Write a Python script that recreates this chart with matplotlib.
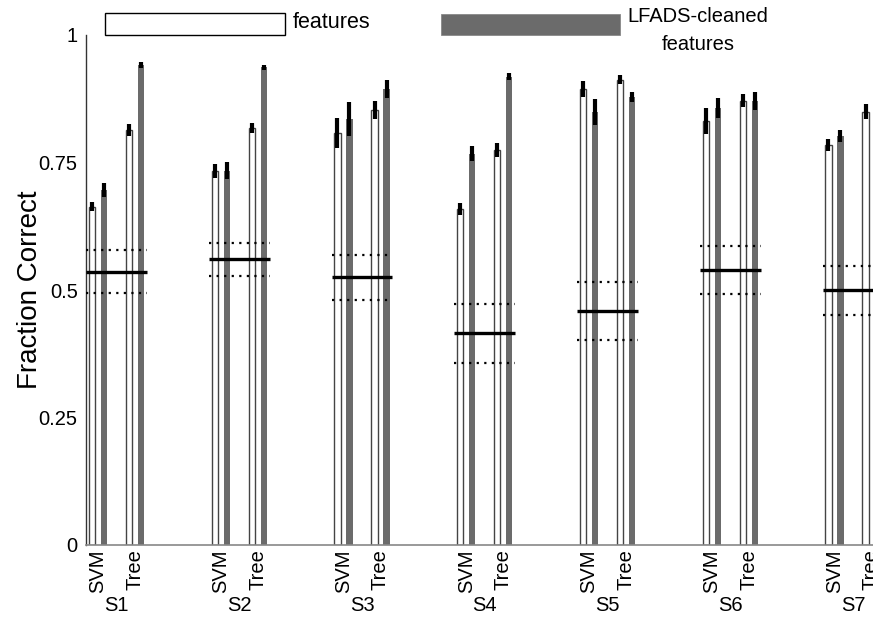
import numpy as np
import matplotlib
matplotlib.use("Agg")
import matplotlib.pyplot as plt
from matplotlib.patches import Rectangle

plt.rcParams['font.family'] = ['Liberation Sans', 'DejaVu Sans']

subjects = ["S1", "S2", "S3", "S4", "S5", "S6", "S7"]
classifiers = ["SVM", "Tree"]

svm_raw = [0.663, 0.734, 0.808, 0.659, 0.894, 0.831, 0.784]
svm_raw_err = [0.009, 0.014, 0.029, 0.012, 0.015, 0.025, 0.012]
svm_lfads = [0.696, 0.734, 0.835, 0.767, 0.849, 0.857, 0.802]
svm_lfads_err = [0.014, 0.017, 0.034, 0.015, 0.025, 0.020, 0.011]
tree_raw = [0.814, 0.818, 0.853, 0.775, 0.912, 0.871, 0.850]
tree_raw_err = [0.012, 0.010, 0.017, 0.014, 0.009, 0.013, 0.014]
tree_lfads = [0.941, 0.937, 0.894, 0.918, 0.879, 0.871]
tree_lfads_err = [0.006, 0.005, 0.018, 0.007, 0.010, 0.018]

chance_mean = [0.535, 0.561, 0.525, 0.416, 0.459, 0.539, 0.500]
chance_hi = [0.578, 0.592, 0.569, 0.473, 0.515, 0.586, 0.548]
chance_lo = [0.494, 0.527, 0.481, 0.357, 0.402, 0.492, 0.451]

W, H = 873, 618
fig = plt.figure(figsize=(W / 100, H / 100), dpi=100)
ax = fig.add_axes([86 / W, 1 - 545 / H, 1 - 86 / W, (545 - 35) / H])

x = np.arange(1, len(subjects) + 1)
bw = 0.05
off_in, off_out = 0.102, 0.2
gray = '#6b6b6b'
edge = '#444444'

series = [
    (x - off_out, svm_raw, svm_raw_err, 'white'),
    (x - off_in, svm_lfads, svm_lfads_err, gray),
    (x + off_in, tree_raw, tree_raw_err, 'white'),
    (x[:len(tree_lfads)] + off_out, tree_lfads, tree_lfads_err, gray),
]
for xs, vals, errs, col in series:
    if col == 'white':
        ax.bar(xs, vals, width=bw, color='white', edgecolor=edge, linewidth=1.0, zorder=2)
    else:
        ax.bar(xs, vals, width=bw, color=col, edgecolor='none', zorder=2)
    ax.errorbar(xs, vals, yerr=errs, fmt='none', ecolor='black', elinewidth=3.0,
                capsize=0, zorder=3)

hw = 0.248
ax.hlines(chance_mean, x - hw, x + hw, colors='black', linewidth=2.4, zorder=4)
for arr in (chance_hi, chance_lo):
    ax.hlines(arr, x - hw, x + hw, colors='black', linewidth=1.6,
              linestyles=(0, (1, 2.4)), zorder=4)

ax.set_xlim(1 - 30.5 / 122.75, 1 + (873 - 116.5) / 122.75)
ax.set_ylim(0, 1)
ax.set_yticks([0, 0.25, 0.5, 0.75, 1])
ax.set_yticklabels(["0", "0.25", "0.5", "0.75", "1"], fontsize=14.5)
ax.tick_params(axis='y', length=0, pad=6)

tick_pos = np.ravel([[xi - 0.15, xi + 0.15] for xi in x])
ax.set_xticks(tick_pos)
ax.set_xticklabels(classifiers * len(subjects), rotation=90, fontsize=14.5)
ax.tick_params(axis='x', length=0, pad=3)
for xi, s in zip(x, subjects):
    ax.text(xi, -0.118, s, ha='center', va='center', fontsize=14.5,
            transform=ax.get_xaxis_transform())

for sp in ('top', 'right'):
    ax.spines[sp].set_visible(False)
ax.spines['left'].set_color('#333333')
ax.spines['left'].set_linewidth(1.0)
ax.spines['bottom'].set_color('#888888')
ax.spines['bottom'].set_linewidth(1.2)

fig.text(30 / W, 1 - 290 / H, "Fraction Correct", rotation=90, ha='center',
         va='center', fontsize=20)

fig.patches.append(Rectangle((105 / W, 1 - 35 / H), 180 / W, 22 / H,
                             transform=fig.transFigure, facecolor='white',
                             edgecolor='black', linewidth=1.0))
fig.patches.append(Rectangle((441 / W, 1 - 35 / H), 179 / W, 21 / H,
                             transform=fig.transFigure, facecolor=gray,
                             edgecolor='#888888', linewidth=0.6))
fig.text(293 / W, 1 - 23 / H, "features", ha='left', va='center', fontsize=15.5)
fig.text(698 / W, 1 - 31 / H, "LFADS-cleaned\nfeatures", ha='center', va='center',
         fontsize=14.5, multialignment='center', linespacing=1.6)

fig.savefig("out.png", dpi=100)
